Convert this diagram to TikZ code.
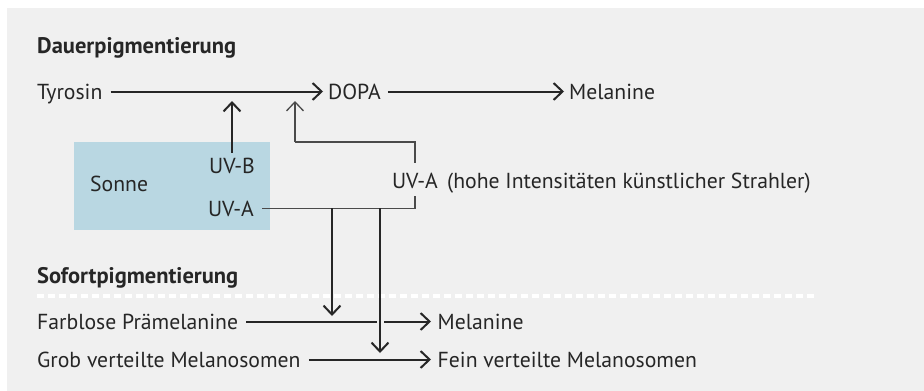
\documentclass[tikz,border=0pt]{standalone}
\usepackage{fontspec}
\setmainfont{PT Sans}
\usepackage{tikz}
\usetikzlibrary{arrows.meta, positioning}
\definecolor{panel}{HTML}{F0F0F0}
\definecolor{sky}{HTML}{B9D7E2}
\definecolor{ink}{HTML}{262626}
\definecolor{wire}{HTML}{4A4A4A}

\begin{document}
\begin{tikzpicture}[
    x=1pt, y=-1pt,
    txt/.style   = {inner sep=0pt, anchor=base west, text height=15pt, text depth=0pt,
                    text=ink, font=\fontsize{21.7}{24}\selectfont},
    band/.style  = {txt, anchor=base},
    head/.style  = {txt, font=\fontsize{22.5}{26}\selectfont\bfseries},
    pathway/.style = {-{Straight Barb[length=9pt, width=17pt]}, line width=2pt, draw=ink},
    uvline/.style  = {line width=1.3pt, draw=wire},
    sunbox/.style  = {fill=sky, inner sep=0pt, minimum width=196pt, minimum height=88pt, anchor=north west}
  ]
  % panel and frame (px-like units, y grows downwards)
  \useasboundingbox (0,0) rectangle (924,391);
  \fill[panel] (7,8) rectangle (924,391);

  % Dauerpigmentierung
  \node[head] (dauer) at (37,53) {Dauerpigmentierung};
  \node[txt] (tyr)  at (37,99)  {Tyrosin};
  \node[txt] (dopa) at (328,99) {DOPA};
  \node[txt] (mel)  at (569,99) {Melanine};
  \draw[pathway, shorten <=8pt, shorten >=5pt] (tyr.east) -- (dopa.west);
  \draw[pathway, shorten <=7pt, shorten >=5pt] (dopa.east) -- (mel.west);

  % sun with its two bands
  \node[sunbox] (sonne) at (74,142) {};
  \node[txt] (sun) at (90,191)  {Sonne};
  \node[band] (uvb) at (232,173) {UV-B};
  \node[band] (uva) at (231,216) {UV-A};

  % artificial UV-A source
  \node[band] (uvak) at (415,188) {UV-A};
  \node[txt] (hohe) at (447,188) {(hohe Intensitäten künstlicher Strahler)};

  \coordinate (uvbtip) at (uvb.north |- 0,101);
  \coordinate (uvatip) at (295,101);
  \coordinate (uvabend) at (295,142);
  \draw[pathway, shorten <=5pt] (uvb.north) -- (uvbtip);
  \draw[uvline, shorten <=10pt] (uvak.north) |- (uvabend);
  \draw[uvline, -{Straight Barb[length=9pt, width=17pt]}] (uvabend) -- (uvatip);
  \draw[uvline, shorten <=8pt, shorten >=8pt] (uvak.south) |- (uva.east);

  % Sofortpigmentierung
  \node[head] (sofort) at (37,283) {Sofortpigmentierung};
  \draw[white, line width=4pt, dash pattern=on 7pt off 4pt] (37,295.5) -- (816,295.5);
  \node[txt] (farb) at (37,329)    {Farblose Prämelanine};
  \node[txt] (mel2) at (437.5,329) {Melanine};
  \node[txt] (grob) at (37,367)    {Grob verteilte Melanosomen};
  \node[txt] (fein) at (437.5,367) {Fein verteilte Melanosomen};
  \draw[pathway, shorten <=8pt, shorten >=6.5pt] (farb.east) -- (mel2.west);
  \draw[pathway, shorten <=8pt, shorten >=6.5pt] (grob.east) -- (fein.west);

  % UV-A drops into the fast reactions
  \coordinate (dropa) at (332,208);
  \coordinate (dropb) at (380,208);
  \coordinate (tipa) at (332,316);
  \coordinate (tipb) at (380,353);
  \fill[panel] ([xshift=-3.5pt, yshift=-3pt]farb.east -| dropb) rectangle ([xshift=3.5pt, yshift=3pt]farb.east -| dropb);
  \draw[pathway] (dropa) -- (tipa);
  \draw[pathway] (dropb) -- (tipb);
\end{tikzpicture}
\end{document}
